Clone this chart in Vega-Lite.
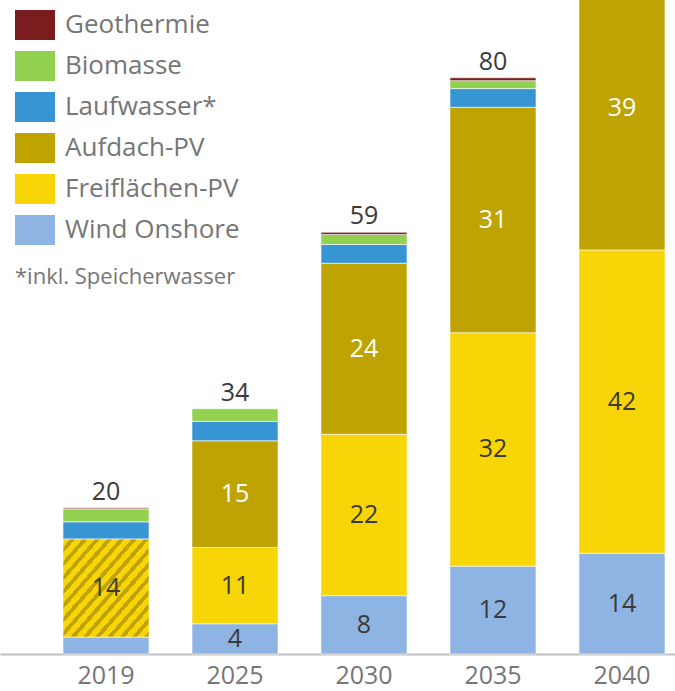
{
  "$schema": "https://vega.github.io/schema/vega-lite/v6.json",
  "width": 675,
  "height": 654,
  "autosize": {"type": "none"},
  "padding": {"left": 0, "top": 0, "right": 0, "bottom": 37},
  "background": "#ffffff",
  "config": {
    "view": {"stroke": null},
    "font": "Open Sans"
  },
  "data": {
    "values": [
      {"Jahr": "2019", "Typ": "Wind Onshore", "o": 1, "Wert": 2.35},
      {"Jahr": "2019", "Typ": "PV gesamt", "o": 2, "Wert": 13.6},
      {"Jahr": "2019", "Typ": "Laufwasser*", "o": 4, "Wert": 2.4},
      {"Jahr": "2019", "Typ": "Biomasse", "o": 5, "Wert": 1.8},
      {"Jahr": "2019", "Typ": "Geothermie", "o": 6, "Wert": 0.15},
      {"Jahr": "2025", "Typ": "Wind Onshore", "o": 1, "Wert": 4.2},
      {"Jahr": "2025", "Typ": "Freiflächen-PV", "o": 2, "Wert": 10.6},
      {"Jahr": "2025", "Typ": "Aufdach-PV", "o": 3, "Wert": 14.8},
      {"Jahr": "2025", "Typ": "Laufwasser*", "o": 4, "Wert": 2.7},
      {"Jahr": "2025", "Typ": "Biomasse", "o": 5, "Wert": 1.75},
      {"Jahr": "2030", "Typ": "Wind Onshore", "o": 1, "Wert": 8.1},
      {"Jahr": "2030", "Typ": "Freiflächen-PV", "o": 2, "Wert": 22.4},
      {"Jahr": "2030", "Typ": "Aufdach-PV", "o": 3, "Wert": 23.75},
      {"Jahr": "2030", "Typ": "Laufwasser*", "o": 4, "Wert": 2.6},
      {"Jahr": "2030", "Typ": "Biomasse", "o": 5, "Wert": 1.4},
      {"Jahr": "2030", "Typ": "Geothermie", "o": 6, "Wert": 0.3},
      {"Jahr": "2035", "Typ": "Wind Onshore", "o": 1, "Wert": 12.2},
      {"Jahr": "2035", "Typ": "Freiflächen-PV", "o": 2, "Wert": 32.4},
      {"Jahr": "2035", "Typ": "Aufdach-PV", "o": 3, "Wert": 31.3},
      {"Jahr": "2035", "Typ": "Laufwasser*", "o": 4, "Wert": 2.6},
      {"Jahr": "2035", "Typ": "Biomasse", "o": 5, "Wert": 1.1},
      {"Jahr": "2035", "Typ": "Geothermie", "o": 6, "Wert": 0.4},
      {"Jahr": "2040", "Typ": "Wind Onshore", "o": 1, "Wert": 14.0},
      {"Jahr": "2040", "Typ": "Freiflächen-PV", "o": 2, "Wert": 42.1},
      {"Jahr": "2040", "Typ": "Aufdach-PV", "o": 3, "Wert": 39.4},
      {"Jahr": "2040", "Typ": "Laufwasser*", "o": 4, "Wert": 2.7},
      {"Jahr": "2040", "Typ": "Biomasse", "o": 5, "Wert": 1.5},
      {"Jahr": "2040", "Typ": "Geothermie", "o": 6, "Wert": 0.5}
    ]
  },
  "transform": [
    {"stack": "Wert", "groupby": ["Jahr"], "sort": [{"field": "o", "order": "ascending"}], "as": ["y0", "y1"]},
    {"calculate": "(datum.y0 + datum.y1) / 2", "as": "mitte"}
  ],
  "encoding": {
    "x": {
      "field": "Jahr",
      "type": "nominal",
      "sort": ["2019", "2025", "2030", "2035", "2040"],
      "scale": {"type": "band", "paddingInner": 0.333, "paddingOuter": 0.283, "align": 0.863},
      "axis": {
        "title": null,
        "labelAngle": 0,
        "labelFontSize": 25,
        "labelColor": "#767676",
        "labelPadding": 9,
        "ticks": false,
        "domainColor": "#BFBFBF",
        "domainWidth": 2,
        "grid": false
      }
    }
  },
  "layer": [
    {
      "transform": [{"filter": "datum.Typ !== 'PV gesamt'"}],
      "mark": {"type": "bar", "stroke": "#ffffff", "strokeWidth": 0.6},
      "encoding": {
        "y": {"field": "y1", "type": "quantitative", "scale": {"domain": [0, 90.8], "nice": false, "zero": true}, "axis": null},
        "y2": {"field": "y0"},
        "color": {
          "field": "Typ",
          "type": "nominal",
          "scale": {
            "domain": ["Geothermie", "Biomasse", "Laufwasser*", "Aufdach-PV", "Freiflächen-PV", "Wind Onshore"],
            "range": ["#7B1C1E", "#92D050", "#3895D3", "#BFA302", "#F7D506", "#8DB4E2"]
          },
          "legend": {
            "orient": "none",
            "legendX": 15,
            "legendY": 5,
            "padding": 0,
            "title": "*inkl. Speicherwasser",
            "titleOrient": "bottom",
            "titleAnchor": "start",
            "titleFontSize": 22,
            "titleFontWeight": "normal",
            "titleColor": "#767676",
            "titlePadding": 22,
            "titleLimit": 500,
            "symbolType": "M-1,-0.75L1,-0.75L1,0.75L-1,0.75Z",
            "symbolSize": 1600,
            "symbolStrokeWidth": 0,
            "symbolOpacity": 1,
            "labelFontSize": 26,
            "labelColor": "#767676",
            "labelOffset": 10,
            "rowPadding": 6,
            "labelLimit": 400
          }
        }
      }
    },
    {
      "transform": [{"filter": "datum.Typ === 'PV gesamt'"}],
      "mark": {
        "type": "bar",
        "stroke": "#ffffff",
        "strokeWidth": 0.6,
        "fill": {
          "gradient": "linear",
          "x1": 0, "y1": 0, "x2": 1, "y2": 1,
          "stops": [
            {"offset": 0, "color": "#F7D506"}, {"offset": 0.042, "color": "#F7D506"}, {"offset": 0.042, "color": "#BFA302"}, {"offset": 0.0714, "color": "#BFA302"},
            {"offset": 0.0714, "color": "#F7D506"}, {"offset": 0.1134, "color": "#F7D506"}, {"offset": 0.1134, "color": "#BFA302"}, {"offset": 0.1429, "color": "#BFA302"},
            {"offset": 0.1429, "color": "#F7D506"}, {"offset": 0.1849, "color": "#F7D506"}, {"offset": 0.1849, "color": "#BFA302"}, {"offset": 0.2143, "color": "#BFA302"},
            {"offset": 0.2143, "color": "#F7D506"}, {"offset": 0.2563, "color": "#F7D506"}, {"offset": 0.2563, "color": "#BFA302"}, {"offset": 0.2857, "color": "#BFA302"},
            {"offset": 0.2857, "color": "#F7D506"}, {"offset": 0.3277, "color": "#F7D506"}, {"offset": 0.3277, "color": "#BFA302"}, {"offset": 0.3571, "color": "#BFA302"},
            {"offset": 0.3571, "color": "#F7D506"}, {"offset": 0.3991, "color": "#F7D506"}, {"offset": 0.3991, "color": "#BFA302"}, {"offset": 0.4286, "color": "#BFA302"},
            {"offset": 0.4286, "color": "#F7D506"}, {"offset": 0.4706, "color": "#F7D506"}, {"offset": 0.4706, "color": "#BFA302"}, {"offset": 0.5, "color": "#BFA302"},
            {"offset": 0.5, "color": "#F7D506"}, {"offset": 0.542, "color": "#F7D506"}, {"offset": 0.542, "color": "#BFA302"}, {"offset": 0.5714, "color": "#BFA302"},
            {"offset": 0.5714, "color": "#F7D506"}, {"offset": 0.6134, "color": "#F7D506"}, {"offset": 0.6134, "color": "#BFA302"}, {"offset": 0.6429, "color": "#BFA302"},
            {"offset": 0.6429, "color": "#F7D506"}, {"offset": 0.6849, "color": "#F7D506"}, {"offset": 0.6849, "color": "#BFA302"}, {"offset": 0.7143, "color": "#BFA302"},
            {"offset": 0.7143, "color": "#F7D506"}, {"offset": 0.7563, "color": "#F7D506"}, {"offset": 0.7563, "color": "#BFA302"}, {"offset": 0.7857, "color": "#BFA302"},
            {"offset": 0.7857, "color": "#F7D506"}, {"offset": 0.8277, "color": "#F7D506"}, {"offset": 0.8277, "color": "#BFA302"}, {"offset": 0.8571, "color": "#BFA302"},
            {"offset": 0.8571, "color": "#F7D506"}, {"offset": 0.8991, "color": "#F7D506"}, {"offset": 0.8991, "color": "#BFA302"}, {"offset": 0.9286, "color": "#BFA302"},
            {"offset": 0.9286, "color": "#F7D506"}, {"offset": 0.9706, "color": "#F7D506"}, {"offset": 0.9706, "color": "#BFA302"}, {"offset": 1, "color": "#BFA302"}
          ]
        }
      },
      "encoding": {
        "y": {"field": "y1", "type": "quantitative"},
        "y2": {"field": "y0"}
      }
    },
    {
      "transform": [{"filter": "datum.Wert >= 3.5"}],
      "mark": {"type": "text", "fontSize": 25, "baseline": "middle", "align": "center"},
      "encoding": {
        "y": {"field": "mitte", "type": "quantitative"},
        "text": {"field": "Wert", "type": "quantitative", "format": ".0f"},
        "color": {
          "condition": {"test": "datum.Typ === 'Aufdach-PV'", "value": "#ffffff"},
          "value": "#3A3A3A"
        }
      }
    },
    {
      "transform": [
        {"aggregate": [{"op": "sum", "field": "Wert", "as": "Summe"}], "groupby": ["Jahr"]},
        {"filter": "datum.Summe < 88"}
      ],
      "mark": {"type": "text", "fontSize": 25, "baseline": "alphabetic", "align": "center", "dy": -8, "color": "#3A3A3A"},
      "encoding": {
        "y": {"field": "Summe", "type": "quantitative"},
        "text": {"field": "Summe", "type": "quantitative", "format": ".0f"}
      }
    }
  ]
}
